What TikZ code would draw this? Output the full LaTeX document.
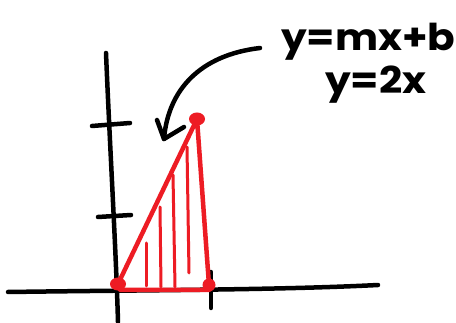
\documentclass[tikz,border=0pt]{standalone}
\usepackage{fontspec}
\setmainfont{Poppins}
\definecolor{pen}{RGB}{237,28,36}
\begin{document}
\begin{tikzpicture}[x=1pt,y=-1pt,
  blk/.style={line width=4.5pt,line cap=round,line join=round},
  redl/.style={pen,line width=4.5pt,line cap=round,line join=round},
  dotr/.style={pen,fill=pen},
  hand/.style={inner sep=0pt,font=\fontsize{37}{37}\selectfont\bfseries}]
\useasboundingbox[fill=white] (0,0) rectangle (456,323);
% axes
\coordinate (yt) at (106,53);
\coordinate (yb) at (118,322);
\coordinate (xl) at (8,292);
\coordinate (xr) at (378,285);
\draw[blk] (yt) .. controls (110,150) and (116,250) .. (yb);
\draw[blk] (xl) .. controls (150,290) and (280,290) .. (xr);
% ticks
\coordinate (t1a) at (92,126); \coordinate (t1b) at (130,123);
\coordinate (t2a) at (98,217); \coordinate (t2b) at (131,215);
\coordinate (t3a) at (211,272); \coordinate (t3b) at (211,308);
\draw[blk] (t1a) -- (t1b);
\draw[blk] (t2a) -- (t2b);
\draw[blk] (t3a) -- (t3b);
% triangle
\coordinate (A) at (118,284);
\coordinate (B) at (197,119);
\coordinate (C) at (209,285);
\coordinate (Abot) at (120,290);
\coordinate (Cbot) at (209,290);
\draw[redl] (A) -- (B) -- (C) -- (Cbot) -- (Abot) -- cycle;
\fill[dotr] (A) ellipse (8pt and 6.5pt);
\fill[dotr] (B) ellipse (8pt and 6.5pt);
\fill[dotr] (C) ellipse (6.5pt and 6.5pt);
% hatching
\coordinate (h1a) at (146,243); \coordinate (h1b) at (146,286);
\coordinate (h2a) at (160,207); \coordinate (h2b) at (161,287);
\coordinate (h3a) at (173,175); \coordinate (h3b) at (175,287);
\coordinate (h4a) at (187,147); \coordinate (h4b) at (189,273);
\draw[redl,line width=3pt] (h1a) -- (h1b);
\draw[redl,line width=3pt] (h2a) -- (h2b);
\draw[redl,line width=3pt] (h3a) -- (h3b);
\draw[redl,line width=3pt] (h4a) -- (h4b);
% text
\node[hand,anchor=base west] (eq1) at (281,51) {\scalebox{1.1}[1]{y=mx+b}};
\node[hand,anchor=base west] (eq2) at (325,94) {\scalebox{1.1}[1]{y=2x}};
% arrow
\coordinate (as) at (260,48);
\coordinate (tip) at (164,139);
\coordinate (b1) at (157,120);
\coordinate (b2) at (184,127);
\draw[blk] (as) .. controls (200,55) and (168,90) .. (tip);
\draw[blk] (b1) -- (tip) -- (b2);
\end{tikzpicture}
\end{document}
